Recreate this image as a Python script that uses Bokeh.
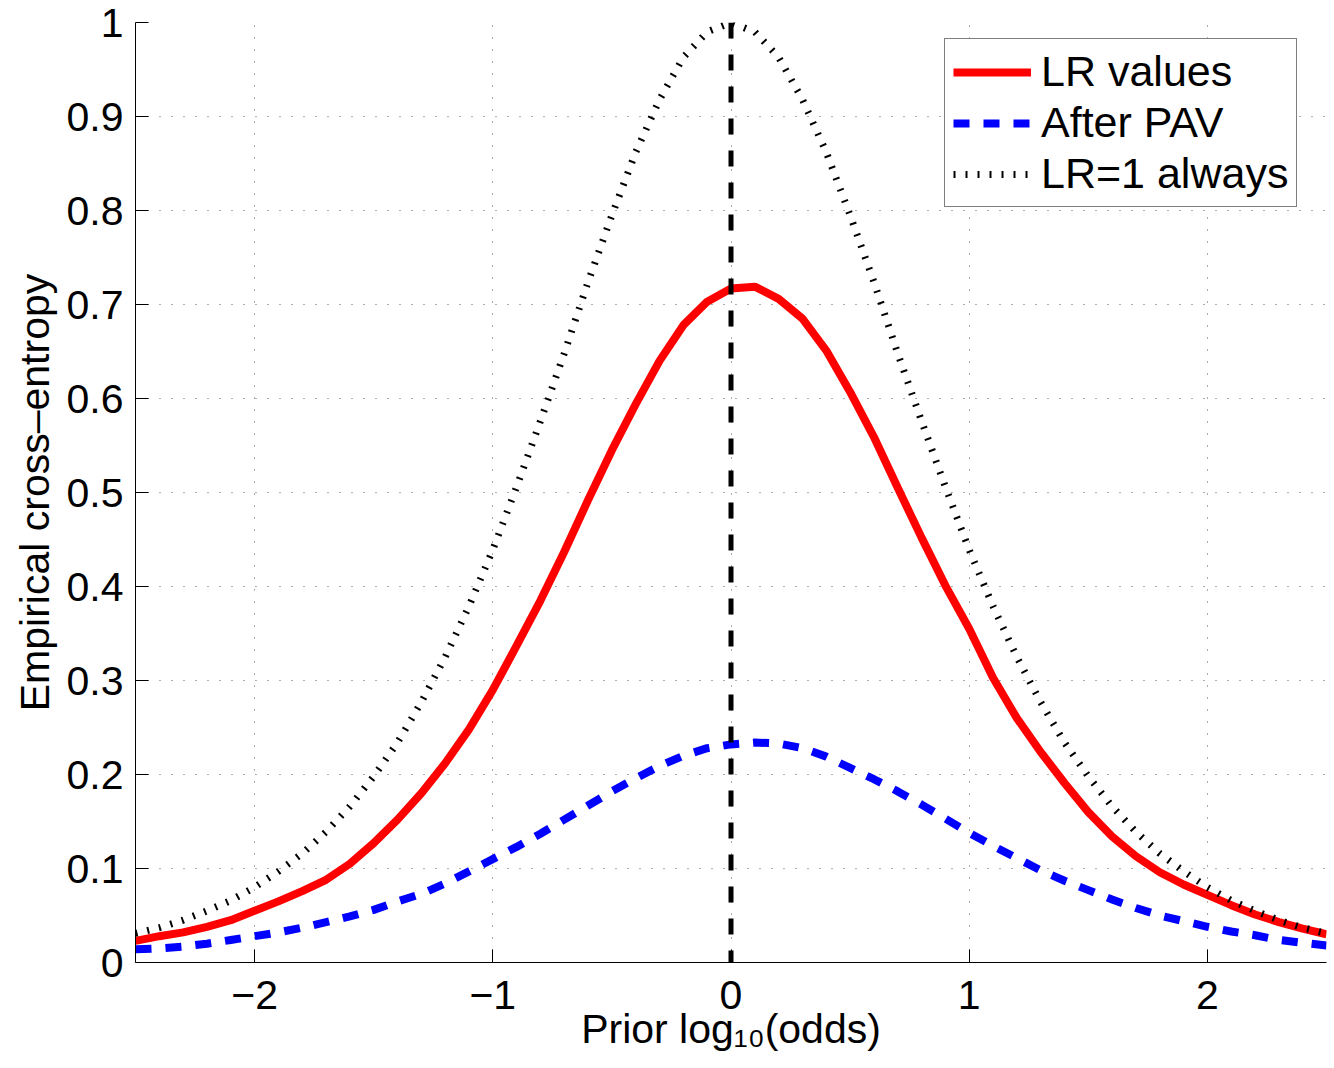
from bokeh.plotting import figure
from bokeh.models import Span, Legend, LegendItem, FixedTicker, Range1d
from bokeh.embed import file_html
from bokeh.resources import INLINE

# ---- data ----
prior_log_odds = [-2.5, -2.4, -2.3, -2.2, -2.1, -2.0, -1.9, -1.8, -1.7, -1.6,
                  -1.5, -1.4, -1.3, -1.2, -1.1, -1.0, -0.9, -0.8, -0.7, -0.6,
                  -0.5, -0.4, -0.3, -0.2, -0.1, 0.0, 0.1, 0.2, 0.3, 0.4,
                  0.5, 0.6, 0.7, 0.8, 0.9, 1.0, 1.1, 1.2, 1.3, 1.4,
                  1.5, 1.6, 1.7, 1.8, 1.9, 2.0, 2.1, 2.2, 2.3, 2.4, 2.5]

lr_values = [0.023, 0.028, 0.032, 0.038, 0.045, 0.055, 0.065, 0.076, 0.088, 0.105,
             0.127, 0.152, 0.180, 0.212, 0.248, 0.290, 0.337, 0.385, 0.437, 0.492,
             0.545, 0.594, 0.640, 0.678, 0.703, 0.717, 0.719, 0.706, 0.685, 0.651,
             0.607, 0.559, 0.505, 0.452, 0.401, 0.355, 0.303, 0.260, 0.224, 0.191,
             0.160, 0.134, 0.113, 0.096, 0.083, 0.072, 0.061, 0.051, 0.043, 0.036, 0.030]

after_pav = [0.014, 0.015, 0.017, 0.020, 0.024, 0.028, 0.032, 0.037, 0.043, 0.049,
             0.056, 0.065, 0.073, 0.084, 0.097, 0.110, 0.123, 0.137, 0.152, 0.167,
             0.182, 0.196, 0.209, 0.220, 0.228, 0.232, 0.234, 0.233, 0.228, 0.219,
             0.207, 0.195, 0.182, 0.168, 0.153, 0.138, 0.124, 0.111, 0.098, 0.087,
             0.077, 0.067, 0.058, 0.050, 0.044, 0.038, 0.033, 0.029, 0.024, 0.021, 0.018]

lr_one_always = [0.031, 0.037, 0.045, 0.055, 0.066, 0.080, 0.097, 0.116, 0.139, 0.166,
                 0.198, 0.234, 0.277, 0.325, 0.379, 0.439, 0.506, 0.576, 0.648, 0.724,
                 0.795, 0.862, 0.918, 0.963, 0.990, 1.000, 0.990, 0.963, 0.918, 0.862,
                 0.795, 0.724, 0.648, 0.576, 0.506, 0.439, 0.379, 0.325, 0.277, 0.234,
                 0.198, 0.166, 0.139, 0.116, 0.097, 0.080, 0.066, 0.055, 0.045, 0.037, 0.031]

threshold_x = 0.0

x_ticks = [-2, -1, 0, 1, 2]
x_tick_labels = ["\u22122", "\u22121", "0", "1", "2"]
y_ticks = [0.0, 0.1, 0.2, 0.3, 0.4, 0.5, 0.6, 0.7, 0.8, 0.9, 1.0]
y_tick_labels = ["0", "0.1", "0.2", "0.3", "0.4", "0.5", "0.6", "0.7", "0.8", "0.9", "1"]

series_labels = ["LR values", "After PAV", "LR=1 always"]
x_label = "Prior log\u2081\u2080(odds)"
y_label = "Empirical cross\u2013entropy"

FONT = "Liberation Sans"
FS = "41px"

p = figure(frame_width=1191, frame_height=940,
           x_range=Range1d(-2.5, 2.5), y_range=Range1d(0, 1),
           output_backend="svg", toolbar_location=None,
           min_border_left=135, min_border_right=8,
           min_border_top=22, min_border_bottom=98)
p.outline_line_color = None
p.background_fill_color = "white"
p.border_fill_color = "white"

# axes
for ax in (p.xaxis[0], p.yaxis[0]):
    ax.axis_line_color = "black"
    ax.axis_line_width = 1
    ax.major_tick_in = 13
    ax.major_tick_out = 0
    ax.major_tick_line_color = "black"
    ax.minor_tick_line_color = None
    ax.major_label_text_font = FONT
    ax.major_label_text_font_size = FS
    ax.major_label_text_color = "black"
    ax.axis_label_text_font = FONT
    ax.axis_label_text_font_size = FS
    ax.axis_label_text_font_style = "normal"
    ax.axis_label_text_color = "black"

p.xaxis.ticker = FixedTicker(ticks=x_ticks)
p.xaxis.major_label_overrides = {t: l for t, l in zip(x_ticks, x_tick_labels)}
p.yaxis.ticker = FixedTicker(ticks=y_ticks)
p.yaxis.major_label_overrides = {t: l for t, l in zip(y_ticks, y_tick_labels)}
p.xaxis.major_label_standoff = 18
p.yaxis.major_label_standoff = 12
p.xaxis.axis_label = x_label
p.yaxis.axis_label = y_label
p.xaxis.axis_label_standoff = -6
p.yaxis.axis_label_standoff = 6

# grid
p.xgrid.ticker = FixedTicker(ticks=x_ticks)
p.ygrid.ticker = FixedTicker(ticks=y_ticks)
for g in (p.xgrid[0], p.ygrid[0]):
    g.grid_line_color = "#333333"
    g.grid_line_dash = "1 11"
    g.grid_line_width = 1
    g.grid_line_alpha = 0.8

# curves
r_red = p.line(prior_log_odds, lr_values, line_color="#ff0000", line_width=8)
r_blue = p.line(prior_log_odds, after_pav, line_color="#0000ff", line_width=8,
                line_dash="16 14")
r_dot = p.line(prior_log_odds, lr_one_always, line_color="black", line_width=7,
               line_dash="2 10")

vline = Span(location=threshold_x, dimension="height", line_color="black",
             line_width=5, line_dash="16 16")
p.add_layout(vline)

legend = Legend(items=[LegendItem(label=series_labels[0], renderers=[r_red]),
                       LegendItem(label=series_labels[1], renderers=[r_blue]),
                       LegendItem(label=series_labels[2], renderers=[r_dot])],
                location=(809, 755))
legend.border_line_color = "black"
legend.border_line_width = 1.5
legend.background_fill_color = "white"
legend.background_fill_alpha = 1
legend.padding = 8
legend.spacing = 2
legend.margin = 0
legend.glyph_width = 78
legend.glyph_height = 46
legend.label_height = 46
legend.label_standoff = 10
legend.label_text_font = FONT
legend.label_text_font_size = "43px"
legend.label_text_color = "black"
p.add_layout(legend)

open("out.html", "w").write(file_html(p, INLINE))
